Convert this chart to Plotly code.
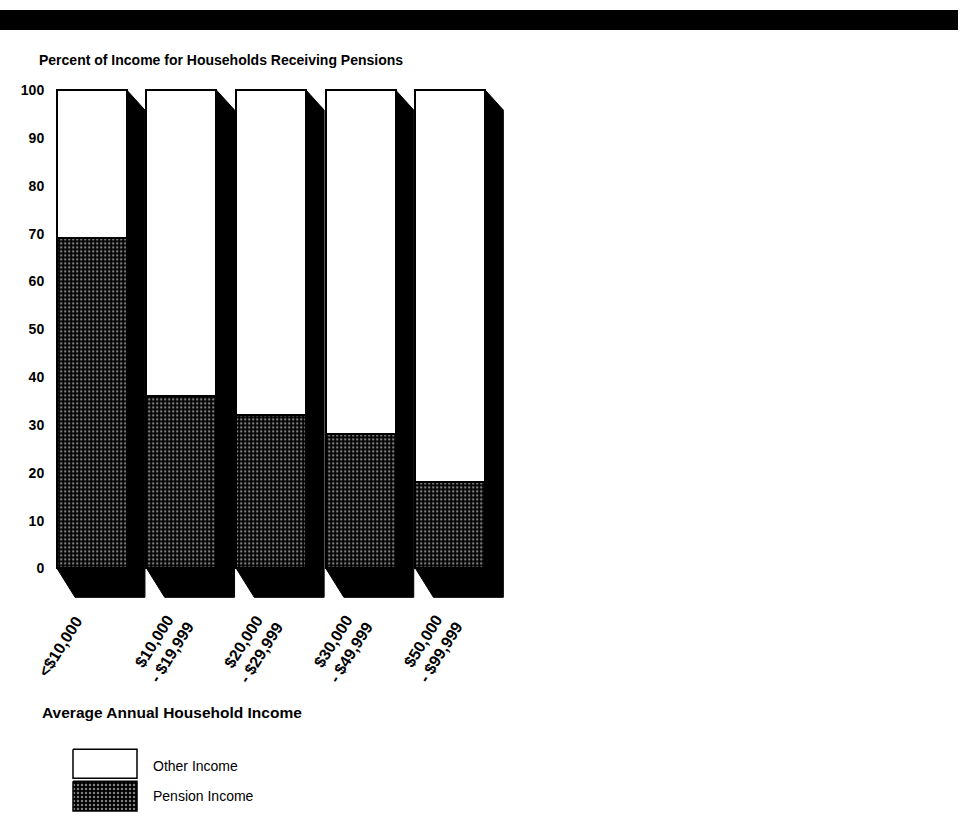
import plotly.graph_objects as go

# ---- data -------------------------------------------------------------
income_brackets = [
    "<$10,000",
    "$10,000 - $19,999",
    "$20,000 - $29,999",
    "$30,000 - $49,999",
    "$50,000 - $99,999",
]
bracket_labels = [
    "&lt;$10,000",
    "$10,000<br>- $19,999",
    "$20,000<br>- $29,999",
    "$30,000<br>- $49,999",
    "$50,000<br>- $99,999",
]
pension_income = [69, 36, 32, 28, 18]
other_income = [100 - p for p in pension_income]
y_ticks = list(range(0, 101, 10))

# ---- layout geometry (pixels) ----------------------------------------
W, H = 964, 823
X0_PX, X1_PX = 47.2, 517.6
Y_TOP_PX, Y_BOT_PX = 82.7, 601.1
X_RANGE = [-0.5, 4.75]
Y_RANGE = [-7, 101]
BAR_W = 0.78

px_per_x = (X1_PX - X0_PX) / (X_RANGE[1] - X_RANGE[0])
px_per_y = (Y_BOT_PX - Y_TOP_PX) / (Y_RANGE[1] - Y_RANGE[0])
DEPTH_X = 18 / px_per_x          # sideways extrusion of each bar
TOP_DROP = 20 / px_per_y         # slant at the top of the side face
BOTTOM_DROP = 29 / px_per_y      # depth of the bottom face

FAMILY = "Liberation Sans, Arial, Helvetica"
BOLD = dict(family=FAMILY, weight="bold", color="black")

idx = list(range(len(income_brackets)))

fig = go.Figure()

# black extruded side/bottom faces behind each bar
for i, (p, o) in enumerate(zip(pension_income, other_income)):
    top = p + o
    left, right = i - BAR_W / 2, i + BAR_W / 2
    fig.add_trace(go.Scatter(
        x=[right, right + DEPTH_X, right + DEPTH_X, left + DEPTH_X, left, right, right],
        y=[top, top - TOP_DROP, -BOTTOM_DROP, -BOTTOM_DROP, 0, 0, top],
        mode="lines", fill="toself", fillcolor="black",
        line=dict(color="black", width=1),
        hoverinfo="skip", showlegend=False,
    ))

DOTS = dict(shape=".", bgcolor="black", fgcolor="white", size=4, solidity=0.3)

fig.add_trace(go.Bar(
    x=idx, y=pension_income, width=BAR_W, name="Pension Income",
    marker=dict(color="black", pattern=DOTS, line=dict(color="black", width=2)),
    showlegend=False, hovertext=income_brackets,
))
fig.add_trace(go.Bar(
    x=idx, y=other_income, width=BAR_W, name="Other Income",
    marker=dict(color="white", line=dict(color="black", width=2)),
    showlegend=False, hovertext=income_brackets,
))

# legend swatches on a full-page pixel overlay
def box(x0, y0, x1, y1):
    return [x0, x1, x1, x0, x0], [y0, y0, y1, y1, y0]

bx, by = box(73, 749, 137, 778)
fig.add_trace(go.Scatter(
    x=bx, y=by, xaxis="x2", yaxis="y2", mode="lines", fill="toself",
    fillcolor="white", line=dict(color="black", width=1.5),
    hoverinfo="skip", showlegend=False,
))
bx, by = box(73, 781, 137, 811)
fig.add_trace(go.Scatter(
    x=bx, y=by, xaxis="x2", yaxis="y2", mode="lines", fill="toself",
    fillcolor="black", fillpattern=DOTS,
    line=dict(color="black", width=1.5),
    hoverinfo="skip", showlegend=False,
))

annotations = []
# rotated category labels under each bar
for i, lab in enumerate(bracket_labels):
    off = -0.35 if "<br>" not in lab else -0.21
    annotations.append(dict(
        x=i + off, y=646, xref="x", yref="y2", text=lab, showarrow=False,
        textangle=-58, font=dict(BOLD, size=16),
        xanchor="center", yanchor="middle",
    ))

annotations += [
    dict(x=37, y=57, xref="x2", yref="y2", text="Percent of Income for Households Receiving Pensions",
         showarrow=False, xanchor="left", yanchor="middle", font=dict(BOLD, size=14)),
    dict(x=40, y=712, xref="x2", yref="y2", text="Average Annual Household Income",
         showarrow=False, xanchor="left", yanchor="middle", font=dict(BOLD, size=15.5)),
    dict(x=151, y=766, xref="x2", yref="y2", text="Other Income",
         showarrow=False, xanchor="left", yanchor="middle",
         font=dict(family=FAMILY, size=14, color="black")),
    dict(x=151, y=796, xref="x2", yref="y2", text="Pension Income",
         showarrow=False, xanchor="left", yanchor="middle",
         font=dict(family=FAMILY, size=14, color="black")),
]

fig.update_layout(
    width=W, height=H,
    margin=dict(l=0, r=0, t=0, b=0),
    paper_bgcolor="white", plot_bgcolor="rgba(0,0,0,0)",
    barmode="stack", bargap=0,
    showlegend=False,
    xaxis=dict(
        domain=[X0_PX / W, X1_PX / W], range=X_RANGE,
        showticklabels=False, showgrid=False, zeroline=False, showline=False, ticks="",
        fixedrange=True,
    ),
    yaxis=dict(
        domain=[1 - Y_BOT_PX / H, 1 - Y_TOP_PX / H], range=Y_RANGE,
        tickvals=y_ticks, ticktext=[str(v) for v in y_ticks],
        tickfont=dict(BOLD, size=14),
        ticks="", ticklabelstandoff=2,
        showgrid=False, zeroline=False, showline=False, fixedrange=True,
    ),
    xaxis2=dict(domain=[0, 1], range=[0, W], visible=False, fixedrange=True, anchor="y2"),
    yaxis2=dict(domain=[0, 1], range=[H, 0], visible=False, fixedrange=True, anchor="x2"),
    shapes=[dict(type="rect", xref="x2", yref="y2", x0=0, x1=958, y0=7, y1=27,
                 fillcolor="black", line=dict(width=0), layer="above")],
    annotations=annotations,
)

fig.write_html("out.html")
